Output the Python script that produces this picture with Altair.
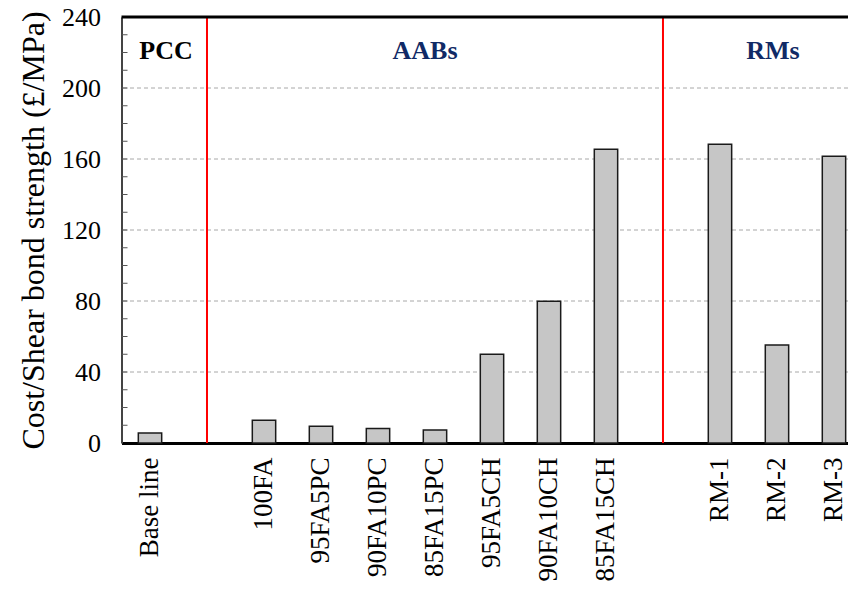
import altair as alt
import pandas as pd

# ---- data ----
bar_labels = ["Base line", "100FA", "95FA5PC", "90FA10PC", "85FA15PC",
              "95FA5CH", "90FA10CH", "85FA15CH", "RM-1", "RM-2", "RM-3"]
bar_values = [5.6, 12.8, 9.4, 8.1, 7.3, 50.0, 79.8, 165.5, 168.3, 55.2, 161.5]

# category slots (two blank slots separate the groups)
slot_order = ["Base line", " ", "100FA", "95FA5PC", "90FA10PC", "85FA15PC",
              "95FA5CH", "90FA10CH", "85FA15CH", "  ", "RM-1", "RM-2", "RM-3"]
separator_slots = [" ", "  "]

group_names = ["PCC", "AABs", "RMs"]
group_anchor = ["Base line", "85FA15PC", "RM-2"]

y_major = [0, 40, 80, 120, 160, 200, 240]
y_grid = [40, 80, 120, 160, 200]
y_top = [240]
y_minor = list(range(10, 240, 10))

bars_df = pd.DataFrame({"cat": bar_labels, "val": bar_values})
sep_df = pd.DataFrame({"cat": separator_slots})
minor_df = pd.DataFrame({"v": y_minor})

FONT = "Liberation Serif"

# the plot area is cut by the right edge of the window, as in the reference:
# the outer padding is placed mostly on the left so the last bar sits near the edge
xscale = alt.Scale(domain=slot_order, paddingInner=0.59, paddingOuter=0.168,
                   align=0.878)
yscale = alt.Scale(domain=[0, 240], nice=False)

bars = alt.Chart(bars_df).mark_bar(
    fill="#c6c6c6", stroke="#1a1a1a", strokeWidth=1.5
).encode(
    x=alt.X("cat:N", scale=xscale, sort=slot_order,
            axis=alt.Axis(title=None, labelAngle=-90, labelFontSize=27,
                          labelColor="black", labelFont=FONT, ticks=False,
                          labelPadding=14, domainColor="black", domainWidth=3)),
    y=alt.Y("val:Q", scale=yscale,
            axis=alt.Axis(title="Cost/Shear bond strength (£/MPa)",
                          titleFontSize=32, titleFont=FONT,
                          titleFontWeight="normal", titleColor="black",
                          titlePadding=11,
                          values=y_major, labelFontSize=26, labelFont=FONT,
                          labelColor="black", labelPadding=21, ticks=False,
                          grid=False, domainColor="#444", domainWidth=2)),
)

grid = alt.Chart(pd.DataFrame({"g": y_grid})).mark_rule(
    color="#a8a8a8", strokeDash=[4, 3], strokeWidth=1
).encode(y=alt.Y("g:Q", scale=yscale))

top_border = alt.Chart(pd.DataFrame({"g": y_top})).mark_rule(
    color="black", strokeWidth=3
).encode(y=alt.Y("g:Q", scale=yscale))

minor = alt.Chart(minor_df).mark_rule(color="#555", strokeWidth=1).encode(
    x=alt.value(0), x2=alt.value(6), y=alt.Y("v:Q", scale=yscale)
)

seps = alt.Chart(sep_df).mark_rule(color="red", strokeWidth=2).encode(
    x=alt.X("cat:N", scale=xscale, sort=slot_order),
    y=alt.datum(0), y2=alt.datum(240),
)

def group_text(i, color, dx):
    df = pd.DataFrame({"cat": [group_anchor[i]], "name": [group_names[i]]})
    return alt.Chart(df).mark_text(
        font=FONT, fontSize=26, fontWeight="bold", color=color, dx=dx,
        baseline="middle", align="center"
    ).encode(x=alt.X("cat:N", scale=xscale, sort=slot_order),
             y=alt.datum(221), text="name:N")

chart = alt.layer(
    grid, seps, bars, minor, top_border,
    group_text(0, "black", 16),
    group_text(1, "#102a66", -10),
    group_text(2, "#102a66", -4),
).properties(
    width=726.5, height=426,
    autosize=alt.AutoSizeParams(type="none"),
    padding={"left": 113.5, "top": 9, "right": 0, "bottom": 141},
).configure_view(
    stroke=None
).configure(background="white")

chart.save("out.html", embed_options={"renderer": "svg", "actions": False})
